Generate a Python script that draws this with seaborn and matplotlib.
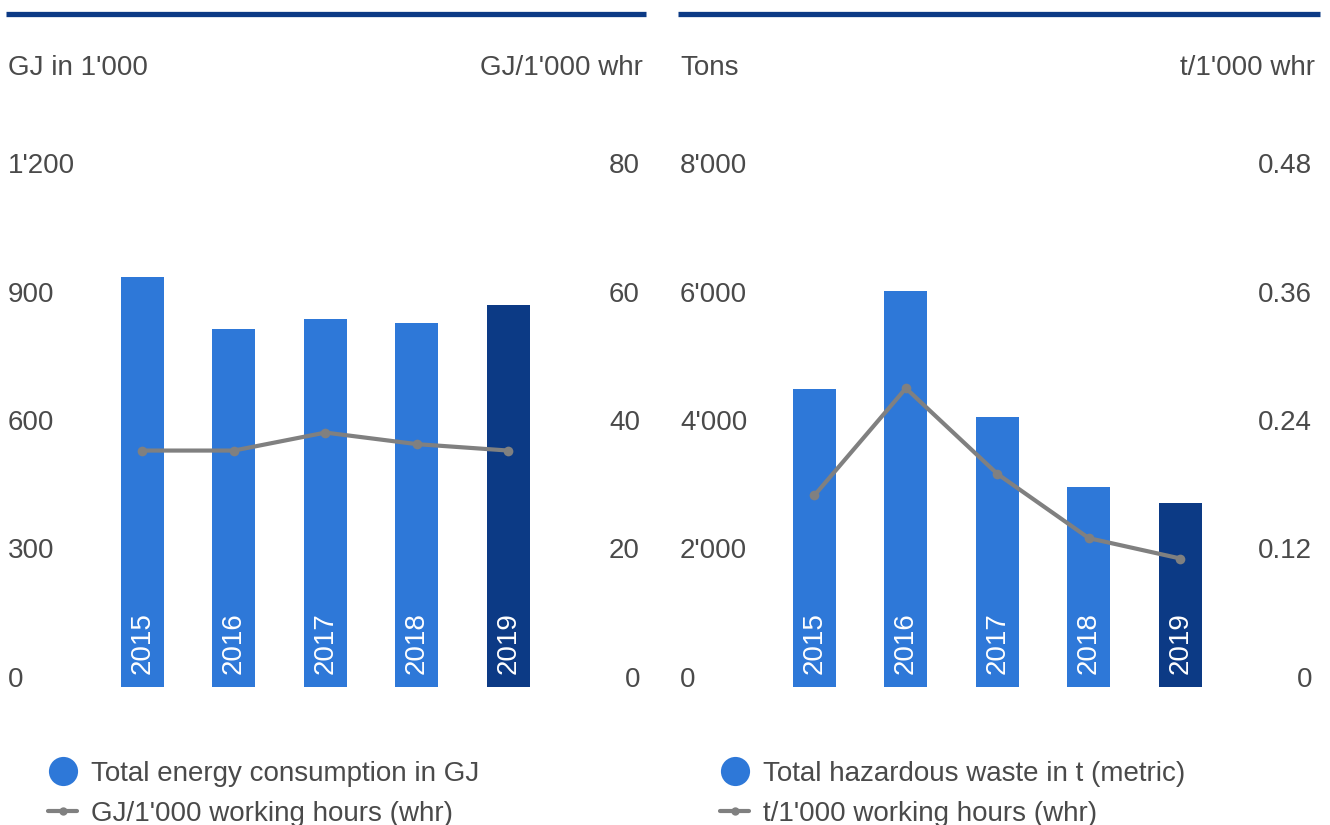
import numpy as np
import pandas as pd
import matplotlib.pyplot as plt
import seaborn as sns
from matplotlib.lines import Line2D
plt.switch_backend('Agg')

# data
years = ["2015", "2016", "2017", "2018", "2019"]
energy_gj = [957, 836, 859, 850, 892]          # GJ in 1'000
energy_per_whr = [36.8, 36.8, 39.6, 37.8, 36.8]  # GJ/1'000 whr
waste_t = [4640, 6165, 4205, 3115, 2870]        # tons
waste_per_whr = [0.179, 0.279, 0.199, 0.139, 0.120]  # t/1'000 whr

energy_ticks = [0, 300, 600, 900, 1200]
energy_labels = ["0", "300", "600", "900", "1'200"]
energy_rate_ticks = [0, 20, 40, 60, 80]
energy_rate_labels = ["0", "20", "40", "60", "80"]
waste_ticks = [0, 2000, 4000, 6000, 8000]
waste_labels = ["0", "2'000", "4'000", "6'000", "8'000"]
waste_rate_ticks = [0, 0.12, 0.24, 0.36, 0.48]
waste_rate_labels = ["0", "0.12", "0.24", "0.36", "0.48"]

BLUE = "#2E78D8"
DARK = "#0C3A85"
GRAY = "#808080"
TEXT = "#4a4a4a"
FS = 20

sns.set_style("white")
plt.rcParams['font.family'] = ['Liberation Sans', 'DejaVu Sans']

W, H = 1330, 825
fig = plt.figure(figsize=(W / 100, H / 100), dpi=100)


def fx(px):
    return px / W


def fy(py):
    return 1 - py / H


def panel(x0, x1, bars, rates, lticks, llabels, rticks, rlabels,
          left_title, right_title, leg_bar, leg_line, rule_end):
    bottom = fy(687)
    top = fy(173)
    ax = fig.add_axes([fx(x0), bottom, fx(x1) - fx(x0), top - bottom])
    df = pd.DataFrame({"year": years, "value": bars})
    pal = [BLUE] * (len(years) - 1) + [DARK]
    sns.barplot(data=df, x="year", y="value", hue="year", palette=pal,
                width=0.47, saturation=1, legend=False, edgecolor="none",
                ax=ax)
    ax.set_ylim(lticks[0], lticks[-1])
    ax.set_yticks(lticks, llabels)
    ax.tick_params(axis='y', length=0, pad=0, labelsize=FS, labelcolor=TEXT)
    for t in ax.get_yticklabels():
        t.set_ha('left')
        t.set_va('baseline')
    ax.tick_params(axis='x', bottom=False, labelbottom=False)
    ax.set_xlabel("")
    ax.set_ylabel("")
    for i, yr in enumerate(years):
        ax.annotate(yr, xy=(i, 0), xytext=(0, 9), textcoords='offset points',
                    rotation=90, ha='center', va='bottom', color='white',
                    fontsize=FS)

    ax2 = ax.twinx()
    ldf = pd.DataFrame({"pos": np.arange(len(years)), "rate": rates})
    sns.lineplot(data=ldf, x="pos", y="rate", color=GRAY, linewidth=3,
                 marker='o', markersize=7, markeredgewidth=0, ax=ax2)
    ax2.set_ylim(rticks[0], rticks[-1])
    ax2.set_yticks(rticks, rlabels)
    ax2.tick_params(axis='y', length=0, pad=0, labelsize=FS, labelcolor=TEXT)
    for t in ax2.get_yticklabels():
        t.set_ha('right')
        t.set_va('baseline')
    ax2.set_xlabel("")
    ax2.set_ylabel("")
    ax.set_xlim(-1.47, 5.44)
    for a in (ax, ax2):
        for s in a.spines.values():
            s.set_visible(False)

    # top rule and headers
    fig.add_artist(Line2D([fx(x0 - 2), fx(rule_end)], [fy(13.5), fy(13.5)],
                          color=DARK, linewidth=3.8, solid_capstyle='butt',
                          transform=fig.transFigure))
    fig.text(fx(x0), fy(68), left_title, ha='left', va='center',
             fontsize=FS, color=TEXT)
    fig.text(fx(x1 + 3), fy(68), right_title, ha='right', va='center',
             fontsize=FS, color=TEXT)

    handles = [
        Line2D([], [], marker='o', linestyle='none', markersize=21,
               color=BLUE, markeredgewidth=0),
        Line2D([], [], marker='o', color=GRAY, linewidth=3, markersize=6,
               markeredgewidth=0),
    ]
    fig.legend(handles, [leg_bar, leg_line], loc='upper left',
               bbox_to_anchor=(fx(x0 + 40), fy(761)), frameon=False,
               fontsize=FS, labelcolor=TEXT, borderpad=0, borderaxespad=0,
               handlelength=1.05, handletextpad=0.5, labelspacing=0.5)


panel(8, 640, energy_gj, energy_per_whr, energy_ticks, energy_labels,
      energy_rate_ticks, energy_rate_labels, "GJ in 1'000", "GJ/1'000 whr",
      "Total energy consumption in GJ", "GJ/1'000 working hours (whr)", 646)
panel(680, 1312, waste_t, waste_per_whr, waste_ticks, waste_labels,
      waste_rate_ticks, waste_rate_labels, "Tons", "t/1'000 whr",
      "Total hazardous waste in t (metric)", "t/1'000 working hours (whr)",
      1320)

plt.savefig("out.png", dpi=100)
